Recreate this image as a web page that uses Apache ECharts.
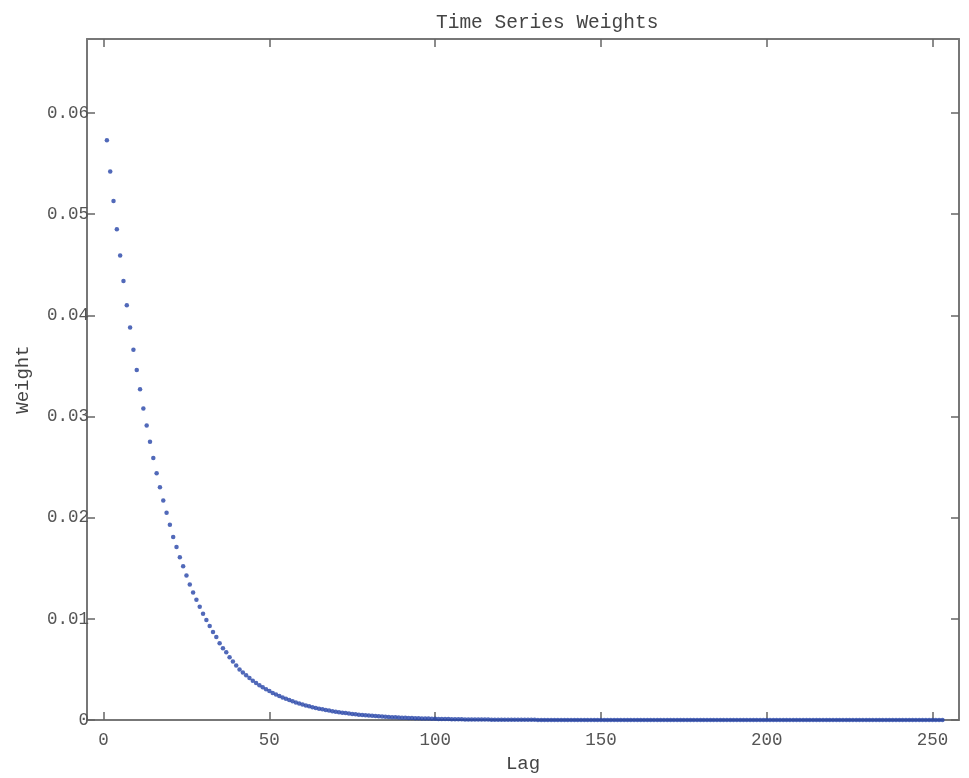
<!DOCTYPE html>
<html style="height: 100%">
<head>
<meta charset="utf-8">
<script src="https://cdn.jsdelivr.net/npm/echarts@6/dist/echarts.min.js"></script>
</head>
<body style="height: 100%; margin: 0; background: #ffffff">
<div id="container" style="width: 969px; height: 778px"></div>
<script type="text/javascript">
// weight per lag (lag = index + 1)
var weights = [
    0.0573, 0.0542, 0.0513, 0.0485, 0.0459, 0.0434, 0.0410, 0.0388, 0.0366, 0.0346,
    0.0327, 0.0308, 0.0291, 0.0275, 0.0259, 0.0244, 0.0230, 0.0217, 0.0205, 0.0193,
    0.0181, 0.0171, 0.0161, 0.0152, 0.0143, 0.0134, 0.0126, 0.0119, 0.0112, 0.0105,
    0.0099, 0.0093, 0.0087, 0.0082, 0.0076, 0.0071, 0.0067, 0.0062, 0.0058, 0.0054,
    0.00500, 0.00470, 0.00442, 0.00415, 0.00390, 0.00367, 0.00345, 0.00324, 0.00305, 0.00287,
    0.00269, 0.00253, 0.00238, 0.00224, 0.00210, 0.00198, 0.00186, 0.00175, 0.00164, 0.00154,
    0.00145, 0.00136, 0.00128, 0.00120, 0.00113, 0.00106, 0.00100, 0.00094, 0.00088, 0.00083,
    0.00078, 0.00073, 0.00069, 0.00065, 0.00061, 0.00057, 0.00054, 0.00051, 0.00048, 0.00045,
    0.00042, 0.00040, 0.00037, 0.00035, 0.00033, 0.00031, 0.00029, 0.00027, 0.00026, 0.00024,
    0.00023, 0.00021, 0.00020, 0.00019, 0.00018, 0.00017, 0.00016, 0.00015, 0.00014, 0.00013,
    0.00012, 0.00011, 0.00011, 0.00010, 0.00009, 0.00009, 0.00008, 0.00008, 0.00007, 0.00007,
    0.00006, 0.00006, 0.00006, 0.00005, 0.00005, 0.00005, 0.00004, 0.00004, 0.00004, 0.00003,
    0.00003, 0.00003, 0.00003, 0.00003, 0.00003, 0.00003, 0.00003, 0.00003, 0.00003, 0.00003,
    0.00002, 0.00002, 0.00002, 0.00002, 0.00002, 0.00002, 0.00002, 0.00002, 0.00002, 0.00002,
    0.00001, 0.00001, 0.00001, 0.00001, 0.00001, 0.00001, 0.00001, 0.00001, 0.00001, 0.00001,
    0.00001, 0.00001, 0.00001, 0.00001, 0.00001, 0.00001, 0.00001, 0.00001, 0.00001, 0.00001,
    0, 0, 0, 0, 0, 0, 0, 0, 0, 0,
    0, 0, 0, 0, 0, 0, 0, 0, 0, 0,
    0, 0, 0, 0, 0, 0, 0, 0, 0, 0,
    0, 0, 0, 0, 0, 0, 0, 0, 0, 0,
    0, 0, 0, 0, 0, 0, 0, 0, 0, 0,
    0, 0, 0, 0, 0, 0, 0, 0, 0, 0,
    0, 0, 0, 0, 0, 0, 0, 0, 0, 0,
    0, 0, 0, 0, 0, 0, 0, 0, 0, 0,
    0, 0, 0, 0, 0, 0, 0, 0, 0, 0,
    0, 0, 0
];
var xTicks = [0, 50, 100, 150, 200, 250];
var yTicks = [0, 0.01, 0.02, 0.03, 0.04, 0.05, 0.06];
var yTickLabels = ['0', '0.01', '0.02', '0.03', '0.04', '0.05', '0.06'];

var points = [];
for (var ii = 0; ii < weights.length; ii++) {
    points.push([ii + 1, weights[ii]]);
}

var font = "'Liberation Mono', 'Courier New', monospace";
var axisColor = '#777777';

function boxAxis(pos, min, max, ticks, labels) {
    return {
        type: 'value',
        position: pos,
        min: min,
        max: max,
        splitLine: { show: false },
        axisLine: { show: true, onZero: false, lineStyle: { color: axisColor, width: 2 } },
        axisTick: { show: true, inside: true, length: 8, customValues: ticks,
            lineStyle: { color: '#666666', width: 1.5 } },
        axisLabel: { show: labels, customValues: ticks }
    };
}

var xBottom = boxAxis('bottom', -5, 258, xTicks, true);
xBottom.axisLabel.fontFamily = font;
xBottom.axisLabel.fontSize = 17.5;
xBottom.axisLabel.color = '#555555';
xBottom.axisLabel.margin = 11;
xBottom.name = 'Lag';
xBottom.nameLocation = 'middle';
xBottom.nameGap = 31;
xBottom.nameTextStyle = { fontFamily: font, fontSize: 19, color: '#444444' };

var xTop = boxAxis('top', -5, 258, xTicks, false);

var yLeft = boxAxis('left', 0, 0.0673, yTicks, true);
yLeft.axisLabel.fontFamily = font;
yLeft.axisLabel.fontSize = 17.5;
yLeft.axisLabel.color = '#555555';
yLeft.axisLabel.margin = -2;
yLeft.axisLabel.formatter = function (v) {
    var k = yTicks.indexOf(v);
    return k >= 0 ? yTickLabels[k] : '';
};
yLeft.name = 'Weight';
yLeft.nameLocation = 'middle';
yLeft.nameGap = 55;
yLeft.nameTextStyle = { fontFamily: font, fontSize: 19, color: '#444444' };

var yRight = boxAxis('right', 0, 0.0673, yTicks, false);

var myChart = echarts.init(document.getElementById('container'));
myChart.setOption({
    animation: false,
    backgroundColor: '#ffffff',
    title: {
        text: 'Time Series Weights',
        left: 431,
        top: 8,
        textStyle: { fontFamily: font, fontSize: 19.5, fontWeight: 'normal', color: '#444444' }
    },
    grid: { left: 87, right: 10, top: 39, bottom: 51 },
    xAxis: [xBottom, xTop],
    yAxis: [yLeft, yRight],
    series: [{
        type: 'scatter',
        xAxisIndex: 0,
        yAxisIndex: 0,
        symbol: 'circle',
        symbolSize: 4.5,
        itemStyle: { color: '#2544a8' },
        data: points
    }]
});
</script>
</body>
</html>
